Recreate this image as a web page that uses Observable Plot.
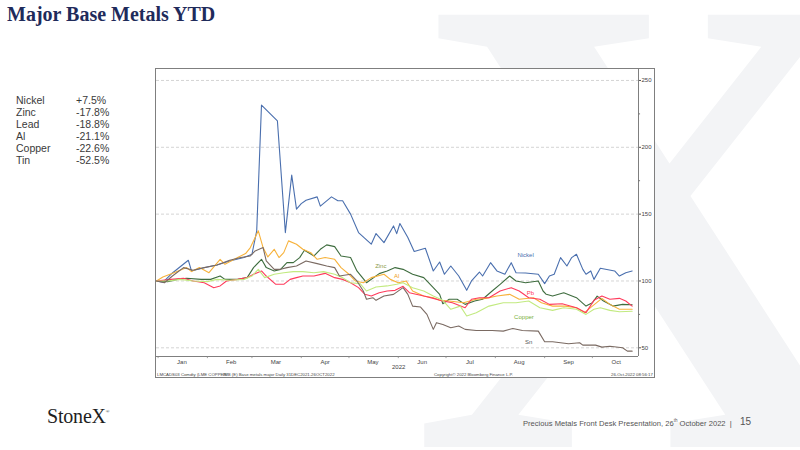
<!DOCTYPE html>
<html>
<head>
<meta charset="utf-8">
<script src="https://cdn.jsdelivr.net/npm/d3@7"></script>
<script src="https://cdn.jsdelivr.net/npm/@observablehq/plot@0.6"></script>
<style>
  html, body { margin: 0; padding: 0; }
  body { width: 800px; height: 450px; position: relative; overflow: hidden; background: #fff; font-family: "Liberation Sans", Arial, sans-serif; }
  #wm { position: absolute; left: 0; top: 0; }
  #title { position: absolute; left: 7px; top: 3px; font-family: "Liberation Serif", serif; font-weight: bold; font-size: 20px; color: #1f2b5b; white-space: nowrap; }
  #table { position: absolute; left: 16px; top: 94px; font-size: 10.5px; color: #3a3a3a; line-height: 12.1px; }
  #table .row { display: flex; }
  #table .name { width: 60px; }
  #chart { position: absolute; left: 155px; top: 68px; width: 498px; height: 308px; border: 1px solid #7f7f7f; background: #fff; }
  #chart svg { position: absolute; left: 0; top: 0; }
  .bb { position: absolute; font-size: 4.3px; color: #444; white-space: nowrap; line-height: 1; }
  #logo { position: absolute; left: 47px; top: 405px; font-family: "Liberation Serif", serif; font-size: 20px; color: #1e1e1e; letter-spacing: -0.2px; }
  #logo sup { font-size: 5px; vertical-align: 10px; }
  #foot { position: absolute; left: 523px; top: 418px; font-family: "Liberation Sans Narrow", "Liberation Sans", sans-serif; font-size: 7.6px; color: #555; white-space: nowrap; }
  #foot sup { font-size: 4.5px; }
  #page { position: absolute; left: 740px; top: 416px; font-family: "Liberation Sans Narrow", "Liberation Sans", sans-serif; font-size: 10px; color: #555; }
</style>
</head>
<body>
<svg id="wm" width="800" height="450"><text x="412" y="447" font-family="Liberation Serif, serif" font-weight="bold" font-size="660" fill="#f3f4f6">X</text></svg>
<div id="title">Major Base Metals YTD</div>
<div id="table"></div>
<div id="chart"></div>
<div id="logo">StoneX<sup>®</sup></div>
<div id="foot">Precious Metals Front Desk Presentation, 26<sup>th</sup> October 2022 &nbsp;|</div>
<div id="page">15</div>
<script>
// ---- summary table ----
const metals = ["Nickel", "Zinc", "Lead", "Al", "Copper", "Tin"];
const ytd = ["+7.5%", "-17.8%", "-18.8%", "-21.1%", "-22.6%", "-52.5%"];

// ---- series (days since 31 Dec 2021, rebased index = 100) ----
const nickelDays = [0,4,10,20,22,29,38,46,55,60,63,66,76,81,85,88,91,94,101,103,110,114,117,122,127,135,138,143,149,151,153,158,162,169,174,178,181,185,190,195,198,203,205,210,214,219,223,226,232,240,244,247,250,254,258,261,264,268,270,273,275,279,288,291,295,299];
const nickelVals = [100,99,106,115.5,107.5,109.7,112,115,117.5,120,137.5,231.6,219.8,136.2,179.2,153.7,157.9,160.4,162.9,156,162.9,160,160,150,136.2,127.5,135.5,128.7,141.2,135.4,143,132.5,122,124.5,107.5,114.2,105,111.2,103.7,93,100,106.7,103.7,113.7,107.5,105,113.7,106.2,106,105,98,103.7,105,117.5,111.2,117.5,120,108.7,105,107.5,101.2,109.5,107.5,103.7,106.2,107.5];

const zincDays = [0,7,13,19,28,34,40,43,51,57,61,66,69,74,78,82,86,90,93,99,103,107,112,116,122,126,132,140,145,150,155,161,168,174,178,180,184,189,194,200,205,211,216,222,226,232,240,243,245,249,256,264,270,274,277,281,287,293,299];
const zincVals = [100,99.5,101.2,102,101.2,101.2,103.7,101.2,101.2,102.5,110,116.2,110,107.5,108.7,113.7,113.7,117.5,123,118.7,123.7,127,125.7,118.7,117.5,107.5,98.7,105.5,107.5,110,108.7,105,102.5,95,90,83,86.3,86.3,82.5,85,86.3,92.5,97.5,103.7,100,98.7,100,92.5,90,88.7,91.2,87.5,81.2,83.7,88.7,85,81.2,82.5,82.2];

const alDays = [0,4,11,19,22,27,33,40,43,51,56,59,64,67,70,74,77,80,83,88,92,97,101,106,112,116,121,125,130,135,143,147,152,157,161,168,174,178,184,193,201,207,214,222,228,237,242,249,257,264,269,274,280,285,291,299];
const alVals = [100,103,106.2,110,107,110,106.2,116.2,112.5,117.5,120.5,125,137.5,125,118,123.7,117.5,121.2,130,127.5,123.7,121.2,116.2,117.5,116.2,110,105,100,98.7,102.5,105,101.2,98.7,100,92.5,88.7,87.5,85.5,85,83.7,86.3,87,88.7,90,86.3,87.5,83.7,81.2,81.2,80,76.3,81.2,87,82.5,78.8,78.9];

const pbDays = [0,9,17,23,30,36,40,44,51,57,61,66,69,75,80,84,88,92,99,106,112,117,122,127,131,135,140,145,150,155,159,168,174,180,186,194,198,203,209,216,223,228,234,241,247,255,264,270,275,280,285,291,295,299];
const pbVals = [100,101.2,102,100,98.7,95,96.3,100,101.2,102.5,105,107.5,103.7,97.5,97.5,101.2,102.5,103.7,103.7,105.7,102.5,101.2,98.7,95,90,88.7,91.2,92.5,93,96,91.2,88.7,87,85,83.7,80,86.3,87.5,87.5,92.5,95,92.5,87.5,86.3,82.5,83,80,76.3,85.5,88.7,86.3,87,85,81.2];

const copperDays = [0,7,15,23,32,38,46,55,60,64,68,74,80,86,92,99,105,112,117,122,128,132,138,145,151,155,161,168,174,180,185,191,195,201,209,218,226,234,241,249,256,264,270,275,279,285,291,299];
const copperVals = [100,100,101.2,100,99.5,101.2,100.5,101.2,103.7,108.7,102.5,105,106.2,107,107,106.2,107,105,102.5,98.7,98,92.5,95.5,96.3,97.5,98.7,95,92.5,88.7,85.5,78.8,81.2,73.8,76.3,81.2,83.7,83.7,85,80,78,80,78.8,75,78.8,80,78,77,77.4];

const snDays = [0,5,10,17,23,30,38,46,53,59,62,67,69,74,78,82,88,94,101,107,112,115,122,126,130,132,136,138,143,149,155,158,161,166,170,174,176,180,185,190,194,201,211,218,224,230,240,244,249,259,266,268,276,280,285,293,296,299];
const snVals = [100,98.7,103.7,110,108,110,112,115.5,117.5,118.7,122.5,125,115,108.7,108.7,110,111.2,115,113,111.2,110,103.7,105,100,92.5,86.3,87.5,85.5,88.7,90,95,90,81.2,80.5,75,63.8,68.8,67.5,65,66.3,63.8,63,63,62.5,64.5,63,62.5,54.5,54.5,53,53.8,52,52,50.5,51.2,50,47.5,47.5];

const seriesNames = ["Nickel", "Zinc", "Al", "Pb", "Copper", "Sn"];
const seriesColors = ["#4a6fae", "#3f6d3f", "#f7b23b", "#ff3b5c", "#c2ea80", "#7a6a62"];
const labelColors = ["#4a6fae", "#8a9a4a", "#f0a020", "#ff3b5c", "#7ab03a", "#555555"];
// in-chart label anchors (day, value)
const labelDays = [232, 141, 151, 235, 231, 234];
const labelVals = [119.5, 111.2, 103.7, 91, 73, 54.3];

const yTicks = [50, 100, 150, 200, 250];
const yMinor = [75, 125, 175, 225];
const monthLabels = ["Jan","Feb","Mar","Apr","May","Jun","Jul","Aug","Sep","Oct"];

// ---- build ----
const day = d => new Date(Date.UTC(2021, 11, 31) + d * 864e5);
const tbl = document.getElementById("table");
metals.forEach((m, i) => {
  const r = document.createElement("div"); r.className = "row";
  r.innerHTML = `<span class="name">${m}</span><span>${ytd[i]}</span>`;
  tbl.appendChild(r);
});

const dayArr = [nickelDays, zincDays, alDays, pbDays, copperDays, snDays];
const valArr = [nickelVals, zincVals, alVals, pbVals, copperVals, snVals];
const rows = [];
seriesNames.forEach((s, k) => dayArr[k].forEach((d, i) => rows.push({series: s, date: day(d), value: valArr[k][i]})));
const labels = seriesNames.map((s, k) => ({series: s, date: day(labelDays[k]), value: labelVals[k], color: labelColors[k]}));

const monthStarts = monthLabels.map((m, i) => new Date(Date.UTC(2022, i, 1)));
const monthMids = monthLabels.map((m, i) => new Date(Date.UTC(2022, i, 16)));
const xDomain = [day(0), day(303)];
const yDomain = [43.5, 258.2];

const plot = Plot.plot({
  width: 498,
  height: 308,
  marginLeft: 0,
  marginTop: 0,
  marginRight: 16,
  marginBottom: 21,
  style: {background: "transparent", fontFamily: "Liberation Sans, Arial, sans-serif", overflow: "visible"},
  x: {type: "utc", domain: xDomain},
  y: {domain: yDomain},
  color: {domain: seriesNames, range: seriesColors},
  marks: [
    Plot.gridY(yTicks, {stroke: "#c9c9c9", strokeOpacity: 1, strokeDasharray: "3,2", strokeWidth: 0.8}),
    Plot.lineY(rows, {x: "date", y: "value", stroke: "series", z: "series", strokeWidth: 1.1, curve: "linear"}),
    Plot.text(labels, {x: "date", y: "value", text: "series", fill: "color", fontSize: 6}),
    Plot.ruleX([xDomain[1]], {stroke: "#7f7f7f", strokeWidth: 1}),
    Plot.ruleY([yDomain[0]], {stroke: "#7f7f7f", strokeWidth: 1}),
    Plot.axisY(yTicks, {anchor: "right", tickSize: 2, tickPadding: 1, fontSize: 6, fill: "#444", stroke: "#555", label: null}),
    // minor ticks on the right axis and month-boundary ticks on the bottom axis
    Plot.ruleY(yMinor, {x1: () => day(303), x2: () => day(304.3), stroke: "#777", strokeWidth: 1}),
    Plot.axisX(monthMids, {anchor: "bottom", tickSize: 0, tickPadding: 3, fontSize: 6, fill: "#444", tickFormat: (d, i) => monthLabels[i], label: null}),
    Plot.ruleX(monthStarts, {y1: () => yDomain[0], y2: () => yDomain[0] - 1.6, stroke: "#888", strokeWidth: 0.8})
  ]
});
const chart = document.getElementById("chart");
chart.appendChild(plot);

const bbTexts = [
  ["2022", 236, 295, 6],
  ["LMCADS03 Comdty (LME COPPER", 1, 304, 4.3],
  ["IMB (E) Base metals major  Daily 31DEC2021-26OCT2022", 67, 304, 4.3],
  ["Copyright\u00a9 2022 Bloomberg Finance L.P.", 278, 304, 4.3],
  ["26-Oct-2022 08:56:17", 455, 304, 4.3]
];
bbTexts.forEach(([t, x, y, fs]) => {
  const e = document.createElement("div"); e.className = "bb";
  e.textContent = t; e.style.left = x + "px"; e.style.top = y + "px"; e.style.fontSize = fs + "px";
  chart.appendChild(e);
});
</script>
</body>
</html>
